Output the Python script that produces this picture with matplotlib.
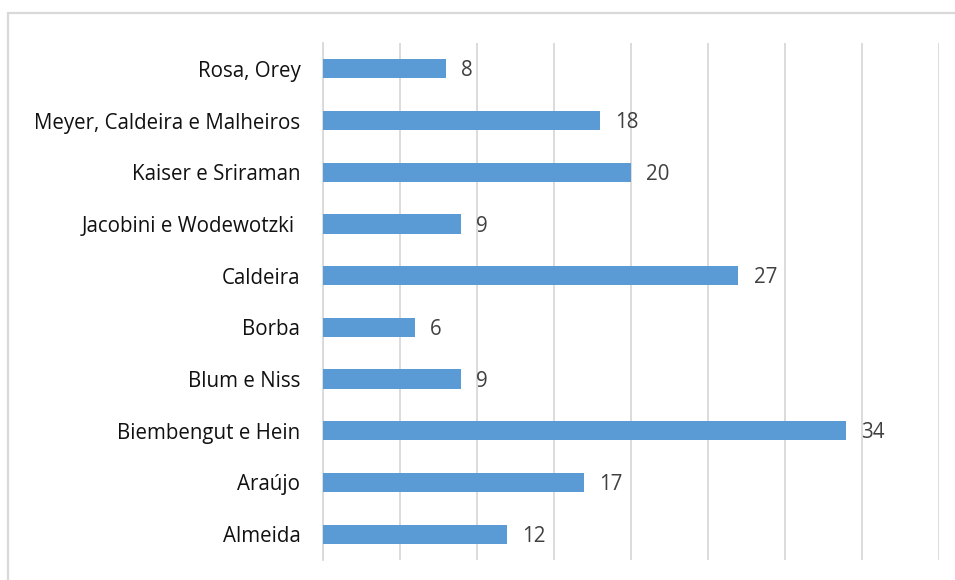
import matplotlib
matplotlib.use("Agg")
import matplotlib.pyplot as plt
from matplotlib.patches import Rectangle

# Authors and counts, listed top to bottom
authors = [
    "Rosa, Orey",
    "Meyer, Caldeira e Malheiros",
    "Kaiser e Sriraman",
    "Jacobini e Wodewotzki ",
    "Caldeira",
    "Borba",
    "Blum e Niss",
    "Biembengut e Hein",
    "Araújo",
    "Almeida",
]
counts = [8, 18, 20, 9, 27, 6, 9, 34, 17, 12]

plt.rcParams["font.family"] = ["Open Sans", "DejaVu Sans"]

fig = plt.figure(figsize=(9.55, 5.8), dpi=100)
fig.patch.set_facecolor("white")

# Outer chart frame
fig.add_artist(Rectangle((8 / 955, -0.2), 1.5, 1.2 - 13 / 580,
                         transform=fig.transFigure, fill=False,
                         edgecolor="#d9d9d9", linewidth=1.6))

ax = fig.add_axes([322.5 / 955, 1 - 560 / 580, (938.5 - 322.5) / 955, (560 - 43) / 580])

y = list(range(len(authors)))[::-1]
ax.barh(y, counts, height=0.37, color="#5b9bd5", zorder=3)

ax.set_xlim(0, 40)
ax.set_ylim(-0.5, len(authors) - 0.5)
ax.set_xticks(range(0, 41, 5))
ax.set_xticklabels([])
ax.tick_params(axis="x", length=0)
ax.grid(axis="x", color="#d9d9d9", linewidth=1.3, zorder=0)

ax.set_yticks(y)
ax.set_yticklabels(authors, fontsize=14.8, color="#111111")
ax.tick_params(axis="y", length=0, pad=16)

for s in ["top", "right", "bottom"]:
    ax.spines[s].set_visible(False)
ax.spines["left"].set_color("#d9d9d9")
ax.spines["left"].set_linewidth(1.3)

for yi, v in zip(y, counts):
    ax.annotate(str(v), (v, yi), xytext=(11, -1.5), textcoords="offset points",
                ha="left", va="center", fontsize=14.8, color="#404040")

fig.savefig("out.png", dpi=100, facecolor="white")
